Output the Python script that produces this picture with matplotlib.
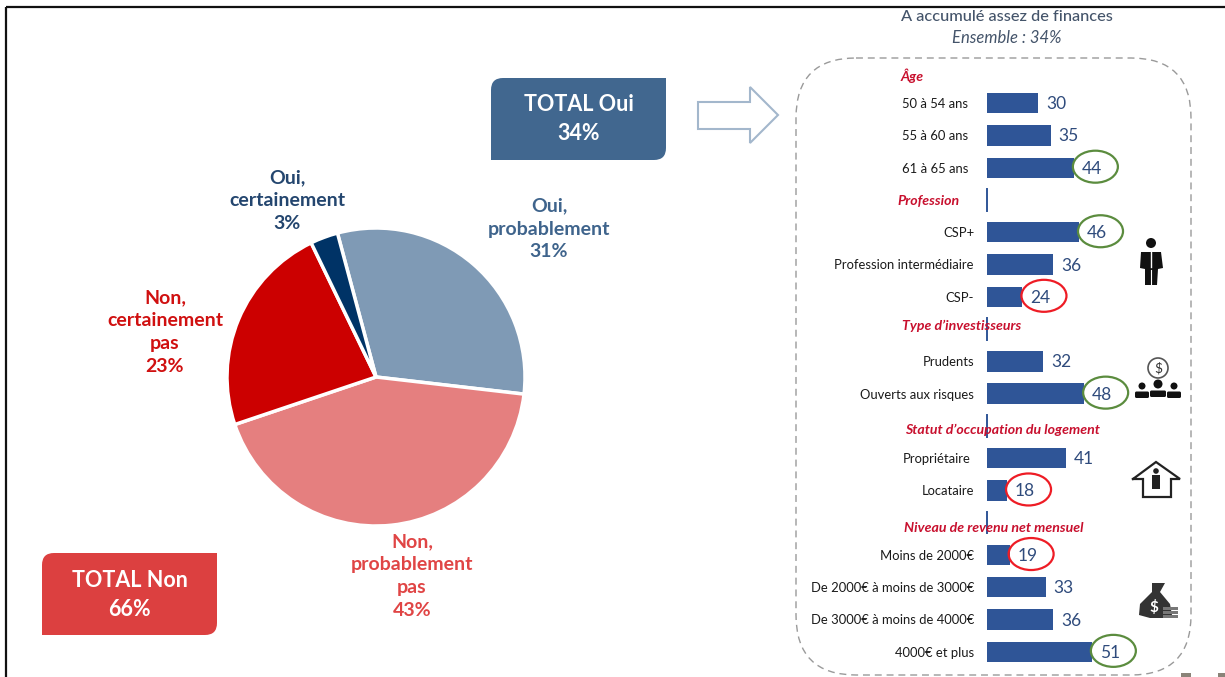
import matplotlib
matplotlib.use("Agg")
import matplotlib.pyplot as plt
from matplotlib.patches import Ellipse, FancyBboxPatch, PathPatch, Polygon, Circle, Rectangle
from matplotlib.path import Path

plt.rcParams['font.family'] = ['Lato', 'DejaVu Sans']

# ---------- data ----------
pie_labels = ["Oui,\nprobablement\n31%", "Non,\nprobablement\npas\n43%", "Non,\ncertainement\npas\n23%", "Oui,\ncertainement\n3%"]
pie_values = [31, 43, 23, 3]
pie_colors = ["#7F9AB5", "#E57F7F", "#CC0000", "#003366"]
pie_text_colors = ["#3F648C", "#E04545", "#D01010", "#24466F"]
pie_text_xy = [(549, 229), (412, 576), (165, 332), (287, 201)]

categories = ["50 à 54 ans", "55 à 60 ans", "61 à 65 ans", "", "CSP+", "Profession intermédiaire", "CSP-", "",
              "Prudents", "Ouverts aux risques", "", "Propriétaire", "Locataire", "",
              "Moins de 2000€", "De 2000€ à moins de 3000€", "De 3000€ à moins de 4000€", "4000€ et plus"]
values = [30, 35, 44, None, 46, 36, 24, None, 32, 48, None, 41, 18, None, 19, 33, 36, 51]
high_rows = [2, 4, 9, 17]
low_rows = [6, 12, 14]
sections = ["Âge", "Profession", "Type d’investisseurs", "Statut d’occupation du logement", "Niveau de revenu net mensuel"]
section_xy = [(912, 76), (929, 201), (962, 326), (1002, 430), (994, 528)]
label_right = {0: 968, 1: 968, 2: 968, 11: 971}

W, H = 1225, 677
fig = plt.figure(figsize=(W / 100, H / 100), dpi=100, facecolor="white")

def rect_px(l, t, r, b):
    return [l / W, 1 - b / H, (r - l) / W, (b - t) / H]

# ---------- overlay in pixel space ----------
ov = fig.add_axes([0, 0, 1, 1], zorder=3)
ov.set_xlim(0, W)
ov.set_ylim(H, 0)
ov.axis("off")

ov.plot([6, W], [7, 7], color="#111111", lw=1.6, solid_capstyle="butt")
ov.plot([6, 6], [7, H], color="#111111", lw=1.6, solid_capstyle="butt")
ov.add_patch(Rectangle((1181, 673), 10, 4, color="#8A8378", lw=0))
ov.add_patch(Rectangle((1218, 673), 7, 4, color="#8A8378", lw=0))

def diag_box(l, t, r, b, rad, color):
    verts = [(l + rad, t), (r, t), (r, b - rad), (r, b), (r - rad, b), (l, b), (l, t + rad), (l, t), (l + rad, t)]
    codes = [Path.MOVETO, Path.LINETO, Path.LINETO, Path.CURVE3, Path.CURVE3, Path.LINETO, Path.LINETO, Path.CURVE3, Path.CURVE3]
    ov.add_patch(PathPatch(Path(verts, codes), facecolor=color, edgecolor="none"))

diag_box(491, 78, 666, 160, 12, "#41678F")
ov.text(578.5, 119, "TOTAL Oui\n34%", color="white", fontsize=15.5, fontweight="bold", ha="center", va="center", linespacing=1.5)
diag_box(42, 553, 217, 635, 12, "#DC4040")
ov.text(129.5, 595, "TOTAL Non\n66%", color="white", fontsize=15.5, fontweight="bold", ha="center", va="center", linespacing=1.5)

ov.add_patch(Polygon([(698, 102), (750, 102), (750, 87), (778, 115), (750, 143), (750, 129), (698, 129)],
                     closed=True, facecolor="white", edgecolor="#A3B7CC", lw=1.5))

ov.add_patch(FancyBboxPatch((856, 118), 275, 497, boxstyle="round,pad=60,rounding_size=60",
                            facecolor="none", edgecolor="#9A9A9A", lw=1.0, linestyle=(0, (5, 3.5))))

ov.text(1007, 17, "A accumulé assez de finances", color="#44546A", fontsize=11.8, fontweight="medium", ha="center", va="center")
ov.text(1007, 38, "Ensemble : 34%", color="#44546A", fontsize=12, style="italic", ha="center", va="center")

for lab, col, (x, y) in zip(pie_labels, pie_text_colors, pie_text_xy):
    ov.text(x, y, lab, color=col, fontsize=14, fontweight="bold", ha="center", va="center", linespacing=1.42)

for s, (x, y) in zip(sections, section_xy):
    ov.text(x, y, s, color="#C8102E", fontsize=10.2, fontweight="bold", style="italic", ha="center", va="center")

# ---------- pie ----------
px = fig.add_axes(rect_px(227, 228, 525, 526), zorder=2)
px.pie(pie_values, colors=pie_colors, startangle=105, counterclock=False, radius=1,
       wedgeprops=dict(edgecolor="white", linewidth=2.5))
px.set_xlim(-1, 1)
px.set_ylim(-1, 1)
px.set_aspect("equal")

# ---------- bars ----------
ax = fig.add_axes(rect_px(987, 87, 1115, 668), zorder=2)
ax.patch.set_alpha(0)
rows = list(range(len(categories)))
bar_vals = [0 if v is None else v for v in values]
ax.barh(rows, bar_vals, height=0.63, color="#2F5597")
ax.set_xlim(10.2, 60)
ax.set_ylim(17.5, -0.5)
ax.axis("off")

for r, (c, v) in enumerate(zip(categories, values)):
    if v is None:
        ax.plot([10.2, 10.2], [r - 0.33, r + 0.33], color="#2F5597", lw=1.4, clip_on=False)
        continue
    ax.annotate(str(v), (v, r), xytext=(18, -1), textcoords="offset pixels", color="#2F4B7C",
                fontsize=12.5, ha="center", va="center", annotation_clip=False, zorder=5)
    right = label_right.get(r, 974)
    ov.text(right, 104 + r * 32.28, c, color="#1A1A1A", fontsize=9.4, ha="right", va="center")

for rowset, col in ((high_rows, "#5B8C3E"), (low_rows, "#EE1C25")):
    for r in rowset:
        dx, dy = ax.transData.transform((values[r], r))
        ov.add_patch(Ellipse((dx + 21.5, H - dy - 1), 45, 32, facecolor="none", edgecolor=col, lw=1.6, zorder=4))

# ---------- icons ----------
ink = "#111111"
# man
ov.add_patch(Circle((1151, 243), 5, color=ink, lw=0))
ov.add_patch(Polygon([(1141, 252), (1161, 252), (1163, 268), (1158, 269), (1157, 285), (1145, 285), (1145, 269), (1140, 268)],
                     closed=True, color=ink, lw=0))
ov.plot([1151, 1151], [252, 267], color="white", lw=1)
ov.plot([1151, 1151], [270, 285], color="white", lw=0.8)
# investors
ov.add_patch(Circle((1158, 368), 10, facecolor="white", edgecolor="#555555", lw=1.2))
ov.text(1158, 368, "$", color="#333333", fontsize=10, ha="center", va="center")
for cx, r_, top in ((1142, 3.5, 394), (1158, 4.5, 393), (1174, 3.5, 394)):
    ov.add_patch(Circle((cx, top - 8 + (0 if r_ < 4 else -1)), r_, color=ink, lw=0))
    ov.add_patch(FancyBboxPatch((cx - r_ - 2, top - 1), 2 * r_ + 4, 3.5, boxstyle="round,pad=1.5", color=ink, lw=0))
# house
ov.plot([1133, 1156, 1180, 1171, 1171, 1143, 1143, 1133], [479, 462, 479, 479, 497, 497, 479, 479],
        color="#222222", lw=1.6, solid_joinstyle="miter")
ov.add_patch(Circle((1156, 471), 2.8, color="#222222", lw=0))
ov.add_patch(Rectangle((1152, 475), 8, 14, color="#222222", lw=0))
# money bag
ov.add_patch(Polygon([(1152, 583), (1165, 583), (1160, 592), (1170, 604), (1172, 615), (1166, 618), (1150, 618), (1139, 615), (1140, 604), (1152, 592)],
                     closed=True, color="#333333", lw=0))
ov.text(1154, 608, "$", color="white", fontsize=11, fontweight="bold", ha="center", va="center")
for cy in (607, 611, 615):
    ov.add_patch(Rectangle((1163, cy), 15, 3, color="#777777", lw=0))

fig.savefig("out.png", dpi=100, facecolor="white")
